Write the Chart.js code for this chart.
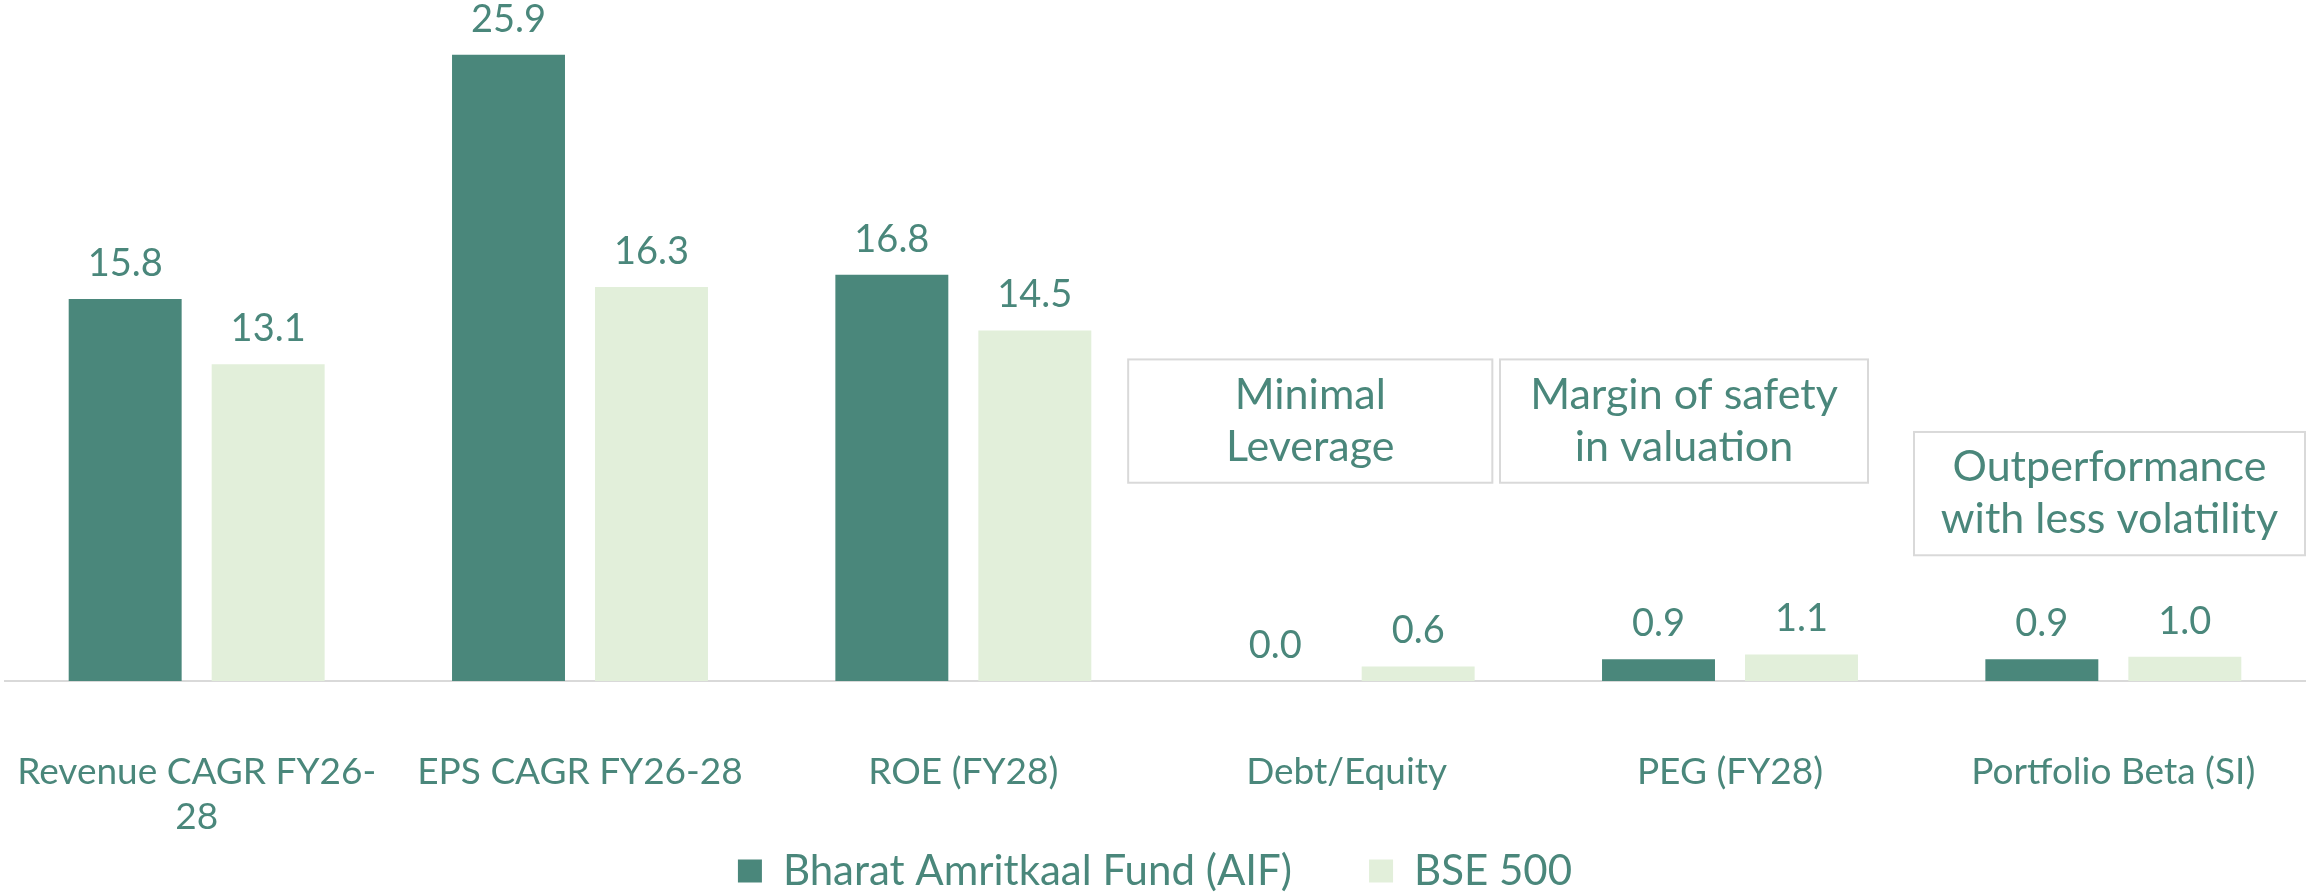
<!DOCTYPE html>
<html>
<head>
<meta charset="utf-8">
<script src="https://cdn.jsdelivr.net/npm/chart.js@4.4.1/dist/chart.umd.min.js"></script>
<style>
  html, body { margin: 0; padding: 0; background: #ffffff; }
  #wrap { width: 2310px; height: 893px; }
</style>
</head>
<body>
<div id="wrap"><canvas id="chart-metrics"></canvas></div>
<script>
// Fund vs benchmark metrics
const categories = [
    ['Revenue CAGR FY26-', '28'],
    'EPS CAGR FY26-28',
    'ROE (FY28)',
    'Debt/Equity',
    'PEG (FY28)',
    'Portfolio Beta (SI)',
];
const fundValues = [15.8, 25.9, 16.8, 0.0, 0.9, 0.9];
const benchValues = [13.1, 16.3, 14.5, 0.6, 1.1, 1.0];
const seriesNames = ['Bharat Amritkaal Fund (AIF)', 'BSE 500'];

// callout boxes: x in category units, y in value units
const callouts = [
    { lines: ['Minimal', 'Leverage'], x0: 2.43, x1: 3.38, y0: 13.3, y1: 8.2 },
    { lines: ['Margin of safety', 'in valuation'], x0: 3.40, x1: 4.36, y0: 13.3, y1: 8.2 },
    { lines: ['Outperformance', 'with less volatility'], x0: 4.48, x1: 5.50, y0: 10.3, y1: 5.2 },
];

const TEAL = '#4A877B';
const PALE = '#E2EFDA';
const FONT = 'Lato, "Open Sans", sans-serif';

const valueLabels = {
    id: 'valueLabels',
    afterDatasetsDraw(chart) {
        const ctx = chart.ctx;
        ctx.save();
        ctx.font = `38px ${FONT}`;
        ctx.fillStyle = TEAL;
        ctx.textAlign = 'center';
        ctx.textBaseline = 'alphabetic';
        chart.data.datasets.forEach((ds, i) => {
            chart.getDatasetMeta(i).data.forEach((bar, j) => {
                ctx.fillText(ds.data[j].toFixed(1), bar.x, bar.y - 23);
            });
        });
        ctx.restore();
    },
};

const calloutBoxes = {
    id: 'calloutBoxes',
    afterDraw(chart) {
        const ctx = chart.ctx;
        const xs = chart.scales.x;
        const ys = chart.scales.y;
        ctx.save();
        callouts.forEach(c => {
            const left = xs.getPixelForValue(c.x0);
            const right = xs.getPixelForValue(c.x1);
            const top = ys.getPixelForValue(c.y0);
            const bottom = ys.getPixelForValue(c.y1);
            ctx.fillStyle = '#ffffff';
            ctx.fillRect(left, top, right - left, bottom - top);
            ctx.strokeStyle = '#d9d9d9';
            ctx.lineWidth = 2;
            ctx.strokeRect(left, top, right - left, bottom - top);
            ctx.font = `43px ${FONT}`;
            ctx.fillStyle = TEAL;
            ctx.textAlign = 'center';
            ctx.textBaseline = 'middle';
            const cx = (left + right) / 2;
            const cy = (top + bottom) / 2;
            c.lines.forEach((line, k) => {
                ctx.fillText(line, cx, cy + (k - (c.lines.length - 1) / 2) * 52);
            });
        });
        ctx.restore();
    },
};

function renderMetricsChart() {
    const canvas = document.getElementById('chart-metrics');
    new Chart(canvas, {
        type: 'bar',
        data: {
            labels: categories,
            datasets: [
                {
                    label: seriesNames[0],
                    data: fundValues,
                    backgroundColor: TEAL,
                    categoryPercentage: 0.746,
                    barPercentage: 0.79,
                },
                {
                    label: seriesNames[1],
                    data: benchValues,
                    backgroundColor: PALE,
                    categoryPercentage: 0.746,
                    barPercentage: 0.79,
                },
            ],
        },
        options: {
            responsive: true,
            maintainAspectRatio: false,
            animation: false,
            layout: { padding: { left: 5, right: 5, top: 4, bottom: -9 } },
            plugins: {
                legend: {
                    position: 'bottom',
                    labels: {
                        color: TEAL,
                        font: { family: FONT, size: 42 },
                        boxWidth: 24,
                        boxHeight: 23,
                        padding: 77,
                    },
                },
                tooltip: { enabled: false },
            },
            scales: {
                x: {
                    grid: { display: false, drawTicks: false },
                    border: { display: true, color: '#d9d9d9', width: 2 },
                    ticks: {
                        color: TEAL,
                        font: { family: FONT, size: 37, lineHeight: 1.22 },
                        padding: 68,
                        maxRotation: 0,
                        autoSkip: false,
                    },
                    afterFit: (scale) => {
                        // keep the plot full width, pin the axis band height,
                        // and let the wrapped label run past the band
                        scale.paddingLeft = 0;
                        scale.paddingRight = 0;
                        scale.height = 92;
                        scale._computeLabelArea = () => null;
                    },
                },
                y: {
                    display: false,
                    min: 0,
                    max: 28,
                },
            },
        },
        plugins: [valueLabels, calloutBoxes],
    });
}

renderMetricsChart();
</script>
</body>
</html>
